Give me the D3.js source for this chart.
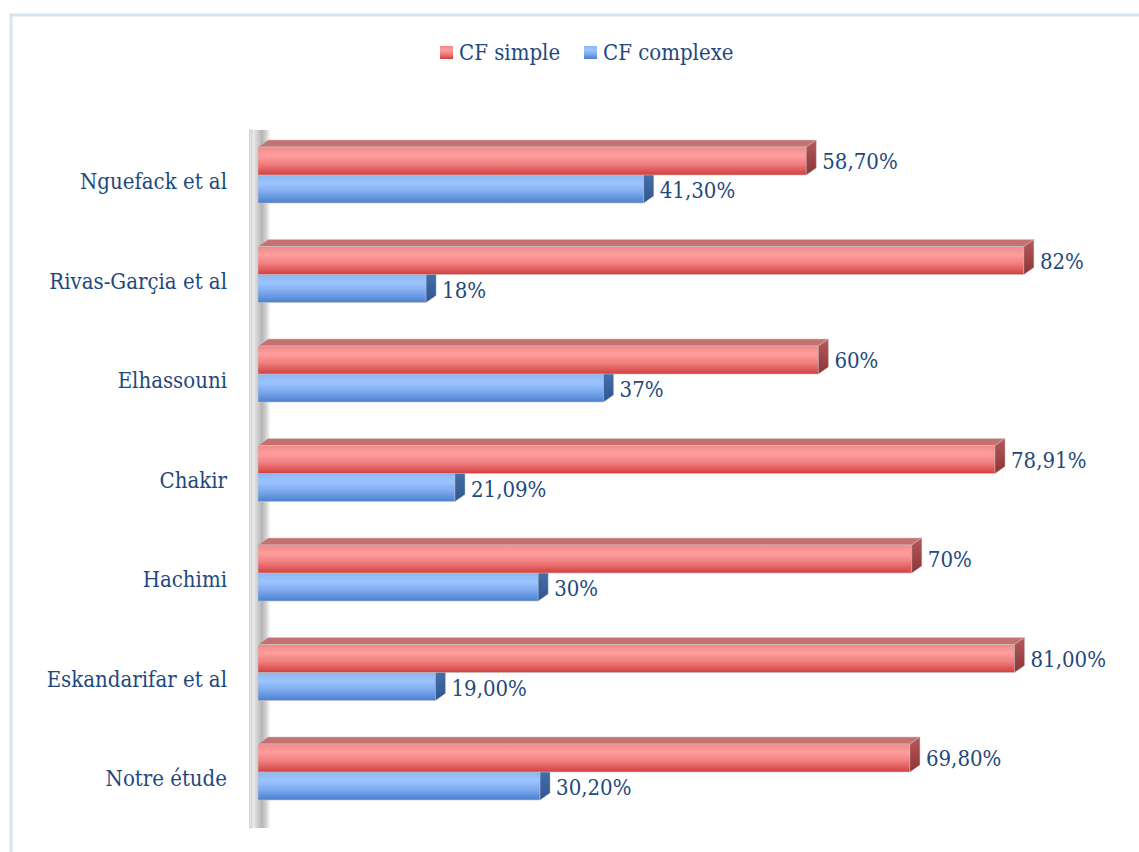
<!DOCTYPE html>
<html>
<head>
<meta charset="utf-8">
<script src="https://cdn.jsdelivr.net/npm/d3@7"></script>
<style>
  html, body { margin: 0; padding: 0; background: #fff; }
  svg text { font-family: "DejaVu Serif Condensed", "DejaVu Serif", serif; font-stretch: condensed; fill: #1F497D; }
</style>
</head>
<body>
<svg id="chart" width="1139" height="852"></svg>
<script>
// Study names and their share of simple / complex febrile seizures (%)
const categories = ["Nguefack et al", "Rivas-Garçia et al", "Elhassouni", "Chakir", "Hachimi", "Eskandarifar et al", "Notre étude"];
const simpleValues = [58.70, 82, 60, 78.91, 70, 81.00, 69.80];
const complexValues = [41.30, 18, 37, 21.09, 30, 19.00, 30.20];
const simpleLabels = ["58,70%", "82%", "60%", "78,91%", "70%", "81,00%", "69,80%"];
const complexLabels = ["41,30%", "18%", "37%", "21,09%", "30%", "19,00%", "30,20%"];
const seriesNames = ["CF simple", "CF complexe"];

const svg = d3.select("#chart");

// Outer frame (only top/left edges fall inside the canvas)
svg.append("rect").attr("x", 11).attr("y", 15).attr("width", 1160).attr("height", 900)
  .attr("fill", "none").attr("stroke", "#d6e3f3").attr("stroke-width", 3);

const defs = svg.append("defs");
function vGrad(id, stops) {
  const g = defs.append("linearGradient").attr("id", id).attr("x1", 0).attr("y1", 0).attr("x2", 0).attr("y2", 1);
  stops.forEach(([o, c]) => g.append("stop").attr("offset", o).attr("stop-color", c));
}
function hGrad(id, stops) {
  const g = defs.append("linearGradient").attr("id", id).attr("x1", 0).attr("y1", 0).attr("x2", 1).attr("y2", 0);
  stops.forEach(([o, c, op]) => g.append("stop").attr("offset", o).attr("stop-color", c).attr("stop-opacity", op == null ? 1 : op));
}
vGrad("redFront", [[0, "#f08a8a"], [0.3, "#ff9d9d"], [0.6, "#f08080"], [1, "#d33f3f"]]);
vGrad("blueFront", [[0, "#8cb6f2"], [0.3, "#9cc4ff"], [0.6, "#80acef"], [1, "#4a80cf"]]);
vGrad("redSide", [[0, "#b45a5a"], [1, "#8e3434"]]);
vGrad("blueSide", [[0, "#4a74b0"], [1, "#2f5690"]]);
hGrad("wallShade", [[0, "#f2f2f2"], [0.5, "#b4b4b4"], [0.75, "#dadada"], [1, "#ffffff", 0]]);

// Scales
const x = d3.scaleLinear().domain([0, 100]).range([258, 1192]);
const y = d3.scalePoint().domain(categories).range([175, 772]);
const barH = 28;
const dx = 10, dy = -7; // 3D depth offset

// Wall (vertical category axis in perspective)
const wallTop = 130, wallBottom = 828;
svg.append("rect").attr("x", 252).attr("y", wallTop).attr("width", 20).attr("height", wallBottom - wallTop)
  .attr("fill", "url(#wallShade)");
svg.append("rect").attr("x", 249.5).attr("y", wallTop).attr("width", 2.5).attr("height", wallBottom - wallTop)
  .attr("fill", "#e2e2e2").attr("stroke", "#c2c2c2").attr("stroke-width", 0.6);

// 3D bar: front face, top face, right face
function bar3d(g, x0, x1, yTop, front, side, topFill) {
  g.append("path")
    .attr("d", `M${x0},${yTop} L${x0 + dx},${yTop + dy} L${x1 + dx},${yTop + dy} L${x1},${yTop} Z`)
    .attr("fill", topFill).attr("stroke", "#c9c9c9").attr("stroke-width", 0.6);
  g.append("rect").attr("x", x0).attr("y", yTop).attr("width", x1 - x0).attr("height", barH)
    .attr("fill", front).attr("stroke", "#c4c4c4").attr("stroke-width", 0.6);
  g.append("path")
    .attr("d", `M${x1},${yTop} L${x1 + dx},${yTop + dy} L${x1 + dx},${yTop + dy + barH} L${x1},${yTop + barH} Z`)
    .attr("fill", side).attr("stroke", "#c4c4c4").attr("stroke-width", 0.4);
}

const bars = svg.append("g");
// complex (lower) bars first, simple bars drawn over them
categories.forEach((c, i) => {
  bar3d(bars, x(0), x(complexValues[i]), y(c), "url(#blueFront)", "url(#blueSide)", "#6b8fc4");
});
categories.forEach((c, i) => {
  bar3d(bars, x(0), x(simpleValues[i]), y(c) - barH, "url(#redFront)", "url(#redSide)", "#c77070");
});

// Value labels
const fs = 22;
categories.forEach((c, i) => {
  svg.append("text").attr("x", x(simpleValues[i]) + 16).attr("y", y(c) - barH / 2 + 8)
    .attr("font-size", fs).text(simpleLabels[i]);
  svg.append("text").attr("x", x(complexValues[i]) + 16).attr("y", y(c) + barH / 2 + 9)
    .attr("font-size", fs).text(complexLabels[i]);
});

// Category labels
categories.forEach(c => {
  svg.append("text").attr("x", 227).attr("y", y(c) + 14).attr("text-anchor", "end")
    .attr("font-size", fs).text(c);
});

// Legend
const legend = svg.append("g");
const legendItems = [
  { name: seriesNames[0], fill: "url(#redFront)", x: 440 },
  { name: seriesNames[1], fill: "url(#blueFront)", x: 584 }
];
legendItems.forEach(d => {
  legend.append("rect").attr("x", d.x).attr("y", 46).attr("width", 13).attr("height", 13).attr("fill", d.fill);
  legend.append("text").attr("x", d.x + 19).attr("y", 60).attr("font-size", fs).text(d.name);
});
</script>
</body>
</html>
